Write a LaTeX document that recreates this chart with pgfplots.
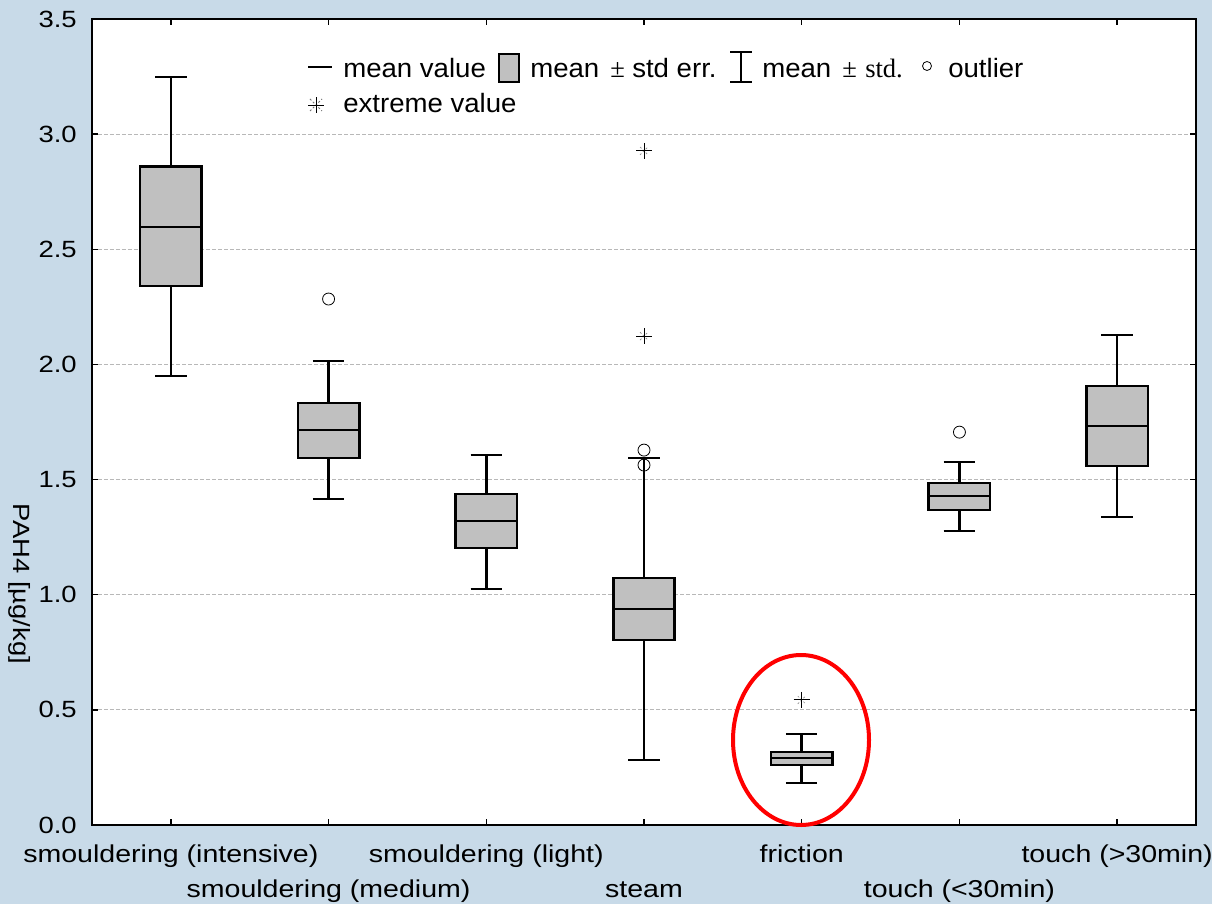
\documentclass[border=0pt]{standalone}
\usepackage{fontspec}
\setmainfont{Liberation Sans}
\newfontfamily\wide{Liberation Sans}[FakeStretch=1.17]
\newfontfamily\leg{Liberation Sans}[FakeStretch=1.04]
\newfontfamily\serifleg{Liberation Serif}
\usepackage{pgfplots}
\pgfplotsset{compat=1.18}
\usepgfplotslibrary{statistics}
\definecolor{bgblue}{HTML}{C8DAE8}
\definecolor{boxgray}{HTML}{C0C0C0}
\newcommand{\tickfont}{\wide\fontsize{17.6pt}{20pt}\selectfont}
\newcommand{\xtickfont}{\wide\fontsize{18.3pt}{20pt}\selectfont}
\newcommand{\legfont}{\leg\fontsize{19.9pt}{22pt}\selectfont}
\newcommand{\serfont}{\serifleg\fontsize{19.9pt}{22pt}\selectfont}
\pgfplotsset{
  mybox/.style={boxplot/draw direction=y,
    boxplot prepared={#1, box extend=0.39, whisker extend=0.2,
      every median/.style={line width=1.5pt}},
    draw=black, fill=boxgray, line width=1.9pt, solid},
}
\begin{document}
\begin{tikzpicture}[x=0.75pt,y=0.75pt]
\useasboundingbox (-92,-79) rectangle (1120,825);
\fill[bgblue] (-92,-79) rectangle (1120,825);
\begin{axis}[
  at={(0,0)}, anchor=south west, scale only axis,
  width=828pt, height=604.5pt,
  xmin=-0.5, xmax=6.5, ymin=0, ymax=3.5,
  axis background/.style={fill=white},
  axis line style={line width=1.5pt, black},
  xtick={0,1,2,3,4,5,6},
  xticklabels={smouldering (intensive), \raisebox{-26.25pt}{smouldering (medium)}, smouldering (light), \raisebox{-26.25pt}{steam}, friction, \raisebox{-26.25pt}{touch (<30min)}, touch (>30min)},
  xticklabel style={anchor=base, yshift=-27.75pt, font=\xtickfont},
  ytick={0,0.5,1,1.5,2,2.5,3,3.5},
  yticklabel style={anchor=east, inner sep=0pt, xshift=-11.25pt, font=\tickfont,
    /pgf/number format/.cd, fixed, fixed zerofill, precision=1, assume math mode=true},
  ymajorgrids,
  grid style={dash pattern=on 3pt off 1.5pt, color=black!28, line width=0.6pt},
  tick align=inside, major tick length=4.5pt,
  tick style={black, line width=1pt},
]
\addplot[mybox={draw position=0, lower whisker=1.950, lower quartile=2.340, median=2.597, upper quartile=2.859, upper whisker=3.248}] coordinates {};
\addplot[mybox={draw position=1, lower whisker=1.416, lower quartile=1.594, median=1.715, upper quartile=1.832, upper whisker=2.015}] coordinates {};
\addplot[mybox={draw position=2, lower whisker=1.025, lower quartile=1.203, median=1.320, upper quartile=1.437, upper whisker=1.607}] coordinates {};
\addplot[mybox={draw position=3, lower whisker=0.282, lower quartile=0.803, median=0.938, upper quartile=1.073, upper whisker=1.594}] coordinates {};
\addplot[mybox={draw position=4, lower whisker=0.182, lower quartile=0.260, median=0.291, upper quartile=0.317, upper whisker=0.395}] coordinates {};
\addplot[mybox={draw position=5, lower whisker=1.277, lower quartile=1.368, median=1.429, upper quartile=1.485, upper whisker=1.576}] coordinates {};
\addplot[mybox={draw position=6, lower whisker=1.337, lower quartile=1.559, median=1.733, upper quartile=1.906, upper whisker=2.128}] coordinates {};
% outliers
\addplot[only marks, mark=o, mark size=4.5pt, mark options={draw=black, fill=white, line width=0.6pt}]
  coordinates {(1,2.284) (3,1.628) (3,1.563) (5,1.706)};
% extreme values
\addplot[only marks, mark=x, mark size=4.2pt, mark options={draw=black!45, line width=0.5pt, dash pattern=on 1.5pt off 1.5pt}]
  coordinates {(3,2.927) (3,2.123) (4,0.543)};
\addplot[only marks, mark=+, mark size=6pt, mark options={draw=black, line width=0.7pt}]
  coordinates {(3,2.927) (3,2.123) (4,0.543)};
\end{axis}
\draw[black, line width=2.2pt] (0,0) -- (1104,0);
% red ellipse
\draw[red, line width=3pt] (709,85) ellipse [x radius=68, y radius=85];
% y label
\node[rotate=-90, font=\tickfont, inner sep=0pt] at (-72,241) {PAH4 [µg/kg]};
% legend
\draw[black, line width=1.5pt] (216,758) -- (240,758);
\node[anchor=base west, inner sep=0pt, font=\legfont] at (251,747) {mean value};
\filldraw[fill=boxgray, draw=black, line width=2.2pt] (407,743) rectangle (427,771);
\node[anchor=base west, inner sep=0pt, font=\legfont] at (438,747) {mean};
\node[anchor=base west, inner sep=0pt, font=\serfont] at (518,747) {±};
\node[anchor=base west, inner sep=0pt, font=\legfont] at (540,747) {std err.};
\draw[black, line width=1.5pt] (638,773) -- (660,773) (649,773) -- (649,743) (638,743) -- (660,743);
\node[anchor=base west, inner sep=0pt, font=\legfont] at (670,747) {mean};
\node[anchor=base west, inner sep=0pt, font=\serfont] at (750,747) {±};
\node[anchor=base west, inner sep=0pt, font=\serfont] at (773,747) {std.};
\draw[black, line width=0.6pt, fill=white] (835,759) circle [radius=4.5];
\node[anchor=base west, inner sep=0pt, font=\legfont] at (856,747) {outlier};
\draw[black!55, line width=0.6pt, dash pattern=on 1.5pt off 1.5pt] (218,714) -- (230,726) (218,726) -- (230,714);
\draw[black, line width=0.7pt] (216,720) -- (232,720) (224,712) -- (224,728);
\node[anchor=base west, inner sep=0pt, font=\legfont] at (251,712) {extreme value};
\end{tikzpicture}
\end{document}
